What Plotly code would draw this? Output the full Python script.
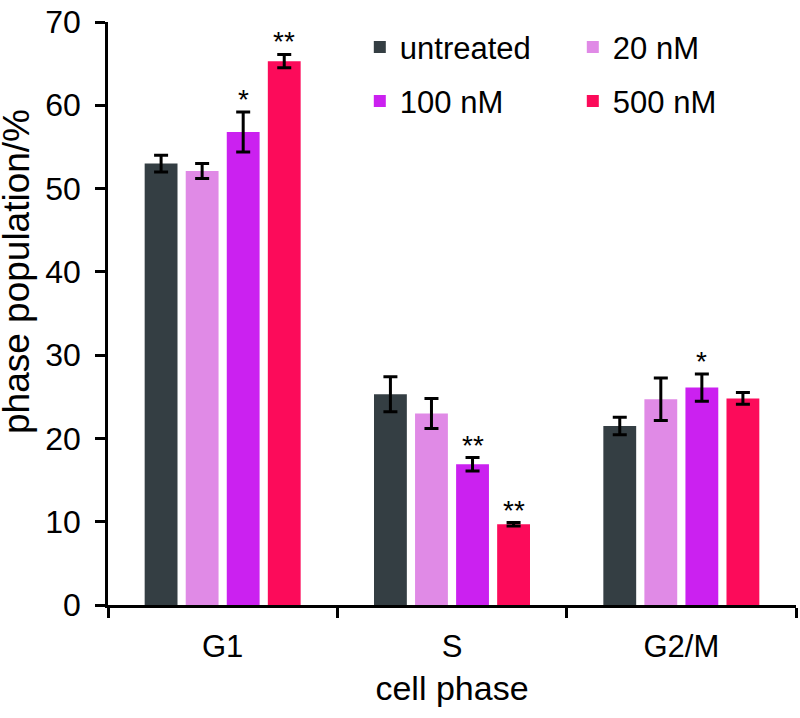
import plotly.graph_objects as go

categories = ["G1", "S", "G2/M"]
series_names = ["untreated", "20 nM", "100 nM", "500 nM"]
untreated = [53.0, 25.3, 21.5]
untreated_err = [1.0, 2.1, 1.05]
nm20 = [52.1, 23.0, 24.7]
nm20_err = [0.9, 1.8, 2.55]
nm100 = [56.8, 16.9, 26.1]
nm100_err = [2.4, 0.8, 1.65]
nm500 = [65.3, 9.7, 24.8]
nm500_err = [0.8, 0.2, 0.7]
stars_untreated = ["", "", ""]
stars_20 = ["", "", ""]
stars_100 = ["*", "**", "*"]
stars_500 = ["**", "**", ""]

colors = ["#343e43", "#e08ae6", "#cb21f0", "#fc0b5a"]
values = [untreated, nm20, nm100, nm500]
errors = [untreated_err, nm20_err, nm100_err, nm500_err]
stars = [stars_untreated, stars_20, stars_100, stars_500]
legends = ["legend", "legend", "legend2", "legend2"]

FONT = "Liberation Sans, Arial, sans-serif"
BARGAP = 0.284
fig = go.Figure()
for name, v, e, c, lg in zip(series_names, values, errors, colors, legends):
    fig.add_trace(go.Bar(
        x=categories, y=v, name=name, marker=dict(color=c, line=dict(width=0)),
        error_y=dict(type="data", array=e, visible=True, color="black", thickness=3, width=7),
        legend=lg,
    ))

slot = (1 - BARGAP) / 4
for k, (v, e, s) in enumerate(zip(values, errors, stars)):
    for i in range(len(categories)):
        if s[i]:
            fig.add_annotation(x=i + (k - 1.5) * slot, y=v[i] + e[i], xref="x", yref="y",
                               text=s[i], showarrow=False, yanchor="bottom", yshift=-5,
                               font=dict(size=28, color="black", family=FONT))

# y-axis title as rotated text
fig.add_annotation(text="phase population/%", textangle=-90, xref="paper", yref="paper",
                   x=-0.133, y=0.572, xanchor="center", yanchor="middle", showarrow=False,
                   font=dict(size=37, color="black", family=FONT))

fig.update_layout(
    width=800, height=718,
    margin=dict(l=108, r=4, t=22, b=113),
    plot_bgcolor="white", paper_bgcolor="white",
    barmode="group", bargap=BARGAP, bargroupgap=0.2,
    font=dict(family=FONT, size=31, color="black"),
    showlegend=True,
    legend=dict(orientation="h", x=0.366, y=1.003, xanchor="left", yanchor="top",
                entrywidth=168, font=dict(size=31), bgcolor="rgba(0,0,0,0)",
                itemsizing="constant"),
    legend2=dict(orientation="h", x=0.366, y=0.910, xanchor="left", yanchor="top",
                 entrywidth=168, font=dict(size=31), bgcolor="rgba(0,0,0,0)",
                 itemsizing="constant"),
)
fig.update_xaxes(
    showline=True, linecolor="black", linewidth=2.5, ticks="outside", ticklen=10,
    tickwidth=2.5, tickcolor="black", tickson="boundaries", automargin=False,
    tickfont=dict(size=31), ticklabelstandoff=12,
    title=dict(text="cell phase", font=dict(size=34), standoff=14),
)
fig.update_yaxes(
    range=[0, 70], dtick=10, showline=True, linecolor="black", linewidth=2.5,
    ticks="outside", ticklen=10, tickwidth=2.5, tickcolor="black", automargin=False,
    showgrid=False, zeroline=False, tickfont=dict(size=32), ticklabelstandoff=8,
)
fig.write_html("out.html", config={"displayModeBar": False},
               post_script="document.body.style.margin='0';")
